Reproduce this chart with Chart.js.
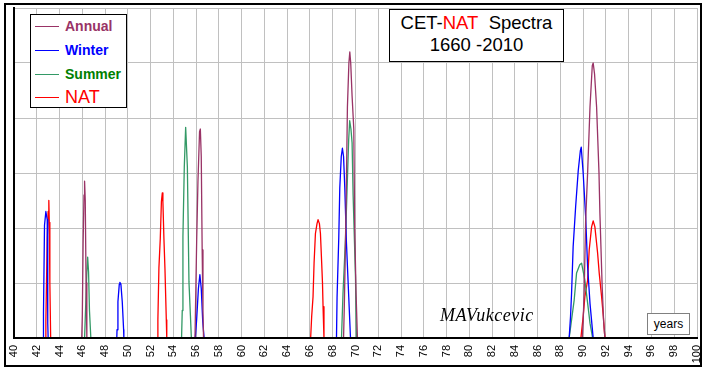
<!DOCTYPE html>
<html>
<head>
<meta charset="utf-8">
<script src="https://cdn.jsdelivr.net/npm/chart.js@4.4.0/dist/chart.umd.min.js"></script>
<style>
  body { margin: 0; background: #fff; }
  #wrap { position: relative; width: 709px; height: 371px; font-family: "Liberation Sans", Arial, sans-serif; }
  #c { position: absolute; left: 0; top: 0; }
  .box { position: absolute; box-sizing: border-box; background: #fff; }
  .row { position: absolute; left: 0; height: 1px; width: 24px; }
  .lab { position: absolute; left: 34px; white-space: nowrap; line-height: 1; }
</style>
</head>
<body>
<div id="wrap">
  <canvas id="c" width="709" height="371"></canvas>
  <div class="box" style="left:4px;top:3px;width:698px;height:364px;border:2px solid #000;background:transparent;pointer-events:none"></div>

  <!-- legende -->
  <div class="box" style="left:30px;top:14px;width:97px;height:94px;border:1px solid #000">
    <div class="row" style="left:4px;top:11px;background:#993366"></div>
    <div class="lab" style="top:4px;font-size:14px;font-weight:bold;color:#993366">Annual</div>
    <div class="row" style="left:4px;top:35px;background:#0000ff"></div>
    <div class="lab" style="top:28px;font-size:14px;font-weight:bold;color:#0000ff">Winter</div>
    <div class="row" style="left:4px;top:59px;background:#339966"></div>
    <div class="lab" style="top:52px;font-size:14px;font-weight:bold;color:#008000">Summer</div>
    <div class="row" style="left:4px;top:82px;background:#ff0000"></div>
    <div class="lab" style="top:73px;font-size:18px;color:#ff0000">NAT</div>
  </div>

  <!-- titre -->
  <div class="box" style="left:389px;top:9px;width:175px;height:53px;border:1px solid #000;text-align:center;font-size:18.5px;line-height:22px;padding-top:2px">
    <div>CET-<span style="color:#ff0000">NAT</span>&nbsp; Spectra</div>
    <div>1660 -2010</div>
  </div>

  <div style="position:absolute;left:440px;top:305px;font-family:'Liberation Serif','DejaVu Serif',serif;font-style:italic;font-size:18px;letter-spacing:0.5px">MAVukcevic</div>

  <div class="box" style="left:647px;top:313px;width:43px;height:22px;border:1px solid #808080;font-size:12px;text-align:center;line-height:20px">years</div>
</div>

<script>
/* ==========================
   Données
   ========================== */
const annualX = [40, 45.95, 46.0, 46.07, 46.15, 46.2, 46.26, 46.33, 46.4,
  55.9, 55.95, 56.05, 56.16, 56.3, 56.37, 56.45, 56.53, 56.6, 56.65,
  68.95, 69.02, 69.1, 69.2, 69.29, 69.42, 69.5, 69.58, 69.7, 69.85, 69.93, 70.05, 70.17,
  89.92, 90.0, 90.09, 90.22, 90.39, 90.6, 90.8, 90.88, 91.0, 91.18, 91.39, 91.47, 91.67, 91.8, 91.91, 100];
const annualY = [0, 0, 0.4, 1.7, 2.6, 2.85, 2.5, 1.0, 0,
  0, 0.6, 1.8, 2.85, 3.75, 3.8, 3.3, 1.6, 0.5, 0,
  0, 0.6, 1.5, 2.8, 4.2, 5.0, 5.2, 5.0, 4.4, 3.8, 2.0, 0.8, 0,
  0, 0.3, 0.87, 2.15, 3.0, 4.2, 4.95, 5.0, 4.8, 4.2, 3.0, 2.27, 0.93, 0.3, 0, 0];

const winterX = [40, 42.57, 42.59, 42.68, 42.8, 42.92, 42.95, 42.98, 43.0,
  49.03, 49.05, 49.13, 49.25, 49.3, 49.39, 49.51, 49.63, 49.65,
  55.93, 56.05, 56.2, 56.33, 56.45, 56.58, 56.7,
  68.33, 68.38, 68.53, 68.62, 68.75, 68.85, 68.95, 69.06, 69.2, 69.41, 69.56,
  88.77, 88.89, 88.98, 89.12, 89.34, 89.57, 89.75, 89.83, 90.0, 90.22, 90.39, 90.6, 90.88, 100];
const winterY = [0, 0, 0.45, 2.05, 2.3, 2.15, 1.09, 0.27, 0,
  0, 0.15, 0.66, 0.98, 1.01, 0.98, 0.66, 0.15, 0,
  0, 0.35, 0.9, 1.15, 0.9, 0.3, 0,
  0, 0.73, 1.82, 2.73, 3.3, 3.45, 3.3, 2.73, 1.75, 0.73, 0,
  0, 0.39, 0.81, 1.66, 2.39, 3.05, 3.4, 3.47, 3.0, 2.2, 1.3, 0.63, 0, 0];

const summerX = [40, 46.2, 46.3, 46.4, 46.47, 46.55, 46.63, 46.75,
  54.72, 54.78, 54.84, 54.96, 55.08, 55.23, 55.37, 55.5, 55.58,
  68.77, 68.9, 69.12, 69.29, 69.4, 69.49, 69.6, 69.7, 69.79, 70.0, 70.08,
  88.77, 88.98, 89.21, 89.42, 89.7, 89.86, 90.15, 90.39, 90.6, 90.83, 100];
const summerY = [0, 0, 0.6, 1.2, 1.47, 1.2, 0.5, 0,
  0, 0.5, 1.84, 3.11, 3.83, 3.11, 1.02, 0.4, 0,
  0, 0.8, 1.8, 2.9, 3.6, 3.95, 3.8, 3.55, 2.6, 1.1, 0,
  0, 0.33, 0.69, 1.18, 1.33, 1.36, 1.05, 0.64, 0.27, 0, 0];

const natX = [40, 42.77, 42.8, 42.92, 43.0, 43.06, 43.1, 43.15, 43.22,
  52.6, 52.64, 52.73, 52.85, 52.95, 53.03, 53.08, 53.17, 53.26, 53.38, 53.42,
  66.06, 66.15, 66.27, 66.36, 66.48, 66.62, 66.71, 66.83, 66.92, 67.03, 67.1, 67.15, 67.23,
  89.8, 90.0, 90.15, 90.39, 90.53, 90.74, 90.88, 91.03, 91.27, 91.41, 91.62, 91.77, 91.91, 100];
const natY = [0, 0, 0.3, 1.8, 2.3, 2.5, 2.1, 1.0, 0,
  0, 0.33, 1.27, 1.81, 2.48, 2.64, 2.48, 1.81, 1.27, 0.33, 0,
  0, 0.39, 0.75, 1.36, 1.9, 2.08, 2.15, 2.08, 1.9, 1.36, 1.0, 0.57, 0,
  0, 0.39, 0.75, 1.05, 1.6, 2.02, 2.13, 2.02, 1.54, 1.18, 0.75, 0.39, 0, 0];

const X_MIN = 40, X_MAX = 100, X_STEP = 2;
const Y_MIN = 0, Y_MAX = 6;

function pts(xs, ys) {
  return xs.map((x, i) => ({ x: x, y: ys[i] }));
}

function serie(label, xs, ys, color) {
  return {
    label: label,
    data: pts(xs, ys),
    borderColor: color,
    borderWidth: 1.3,
    pointRadius: 0,
    tension: 0,
    borderJoinStyle: "round",
    fill: false,
  };
}

// l'axe noir du bas est redessiné par-dessus les courbes
const axeNoir = {
  id: "axeNoir",
  afterDatasetsDraw(chart) {
    const a = chart.chartArea;
    const ctx = chart.ctx;
    ctx.save();
    ctx.strokeStyle = "#000";
    ctx.lineWidth = 2;
    ctx.beginPath();
    ctx.moveTo(a.left - 1, a.bottom);
    ctx.lineTo(a.right, a.bottom);
    ctx.stroke();
    ctx.restore();
  },
};

new Chart(document.getElementById("c").getContext("2d"), {
  type: "line",
  data: {
    datasets: [
      serie("Annual", annualX, annualY, "#993366"),
      serie("Winter", winterX, winterY, "#0000ff"),
      serie("Summer", summerX, summerY, "#339966"),
      serie("NAT", natX, natY, "#ff0000"),
    ],
  },
  options: {
    responsive: false,
    animation: false,
    devicePixelRatio: 1,
    layout: { padding: { left: 14, top: 8, right: 12, bottom: 0 } },
    plugins: { legend: { display: false }, tooltip: { enabled: false } },
    scales: {
      x: {
        type: "linear",
        min: X_MIN,
        max: X_MAX,
        ticks: {
          stepSize: X_STEP,
          autoSkip: false,
          minRotation: 90,
          maxRotation: 90,
          padding: 7,
          color: "#000",
          font: { family: "'Liberation Sans', Arial", size: 11 },
        },
        grid: { color: "#c0c0c0", drawTicks: false },
        border: { color: "#000", width: 2 },
        afterFit(scale) {
          scale.height = 33;
          scale.paddingLeft = 0;
          scale.paddingRight = 0;
        },
      },
      y: {
        min: Y_MIN,
        max: Y_MAX,
        ticks: { display: false, stepSize: 1 },
        grid: { color: "#c0c0c0", drawTicks: false },
        border: { color: "#000", width: 2 },
        afterFit(scale) {
          scale.width = 0;
          scale.paddingTop = 0;
          scale.paddingBottom = 0;
        },
      },
    },
  },
  plugins: [axeNoir],
});
</script>
</body>
</html>
